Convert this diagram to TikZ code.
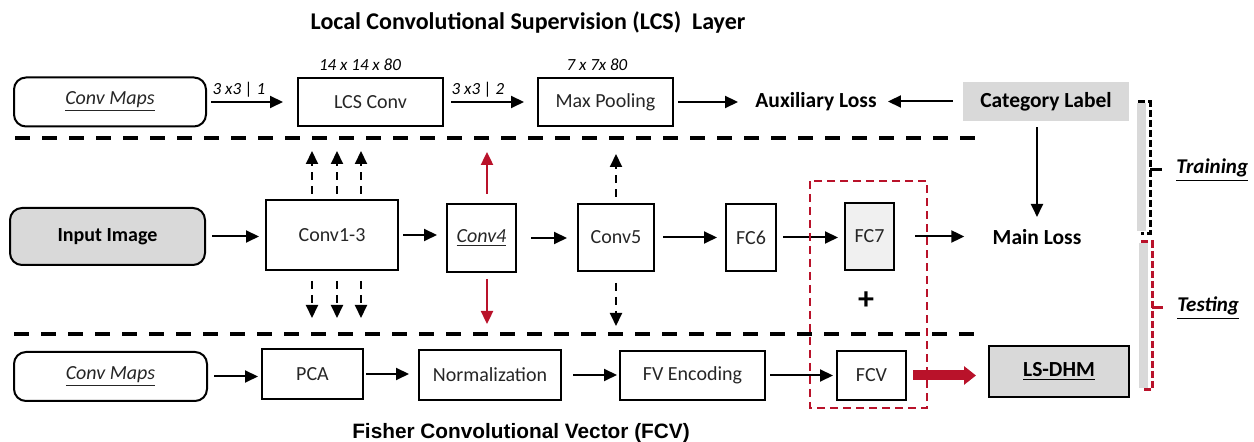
\documentclass[tikz,border=0pt]{standalone}
\usepackage{fontspec}
\setmainfont{Carlito}
\newfontfamily\arialfont{Liberation Sans}
\usetikzlibrary{arrows.meta}
\definecolor{darkred}{RGB}{185,18,42}
\definecolor{boxgray}{RGB}{217,217,217}
\definecolor{fcgray}{RGB}{240,240,240}

\begin{document}
\begin{tikzpicture}[x=0.5pt,y=-0.5pt]
\tikzstyle{every node}+=[inner sep=0pt, font=\fontsize{10}{12}\selectfont]
\tikzstyle{box}=[draw, line width=1pt, text=black!85]
\tikzstyle{mapbox}=[box, rounded corners=6pt]
\tikzstyle{bold}=[font=\fontsize{10.75}{12}\selectfont\bfseries]
\tikzstyle{lab}=[font=\fontsize{8.5}{10}\selectfont\itshape]
\tikzstyle{arr}=[line width=1pt, -{Triangle[length=6.5pt,width=6pt]}, shorten <=2pt, shorten >=2pt]
\tikzstyle{darr}=[arr, dash pattern=on 4pt off 3pt, shorten <=0pt, shorten >=0pt]
\tikzstyle{rarr}=[arr, darkred, line width=1.2pt, shorten <=0pt, shorten >=0pt]
\tikzstyle{sep}=[line width=2pt, dash pattern=on 7.5pt off 6pt]
\tikzstyle{side}=[font=\fontsize{10.5}{12}\selectfont\bfseries\itshape]
\tikzstyle{brace}=[line width=1.5pt, dash pattern=on 3.5pt off 1.5pt]
\useasboundingbox (0,0) rectangle (1254,442);

% LCS layer
\node[font=\fontsize{12}{14}\selectfont\bfseries] (lcstitle) at (528,22) {Local Convolutional Supervision (LCS)\ \ Layer};
\node[mapbox, minimum width=96pt, minimum height=24.5pt] (mapsA) at (110,102) {\textit{\underline{Conv Maps}}};
\node[box, minimum width=72.5pt, minimum height=24pt] (lcs) at (370.5,102) {LCS Conv};
\node[box, minimum width=67.5pt, minimum height=24pt] (pool) at (605.5,102) {Max Pooling};
\node[bold] (aux) at (816,102) {Auxiliary Loss};
\node[bold, fill=boxgray, minimum width=83pt, minimum height=19.5pt] (cat) at (1046,101.5) {Category Label};
\node[lab] (kerA) at (239,90) {3 x3 | 1};
\node[lab] (sizeA) at (360,65) {14 x 14 x 80};
\node[lab] (kerB) at (478,90) {3 x3 | 2};
\node[lab] (sizeB) at (597,65) {7 x 7x 80};
\draw[arr, shorten >=7pt] (mapsA.east) -- (mapsA.east -| lcs.west);
\draw[arr, shorten <=3.5pt, shorten >=6.5pt] (lcs.east) -- (lcs.east -| pool.west);
\draw[arr, shorten >=8.5pt] (pool.east) -- (pool.east -| aux.west);
\draw[arr, shorten <=5pt, shorten >=5.5pt] (cat.west) -- (cat.west -| aux.east);
\draw[sep] (15,138) -- (979,138);

% main network
\node[box, rounded corners=6pt, fill=boxgray, text=black, font=\fontsize{10}{12}\selectfont\bfseries, minimum width=97.5pt, minimum height=28.5pt] (input) at (107.5,236.5) {Input Image};
\node[box, minimum width=66pt, minimum height=35pt] (conv13) at (332,235) {Conv1-3};
\node[box, minimum width=34.5pt, minimum height=34pt] (conv4) at (481.5,238) {\textit{\underline{Conv4}}};
\node[box, minimum width=38pt, minimum height=33.5pt] (conv5) at (616,237.5) {Conv5};
\node[box, minimum width=25pt, minimum height=33.5pt] (fc6) at (751,237.5) {FC6};
\node[box, fill=fcgray, minimum width=24.5pt, minimum height=33.5pt] (fc7) at (869.5,236.5) {FC7};
\node[bold] (main) at (1037,237) {Main Loss};
\node[font=\fontsize{16}{16}\selectfont\bfseries] (plus) at (866,301) {+};
\draw[arr, shorten <=3pt, shorten >=3pt] (input.east) -- (input.east -| conv13.west);
\draw[arr, shorten <=2pt, shorten >=4.5pt] (conv13.east) -- (conv13.east -| conv4.west);
\draw[arr, shorten <=7pt, shorten >=5pt] (conv4.east) -- (conv4.east -| conv5.west);
\draw[arr, shorten <=4pt, shorten >=4pt] (conv5.east) -- (conv5.east -| fc6.west);
\draw[arr, shorten <=3pt, shorten >=3pt] (fc6.east) -- (fc6.east -| fc7.west);
\draw[arr, shorten <=10pt, shorten >=14pt] (fc7.east) -- (fc7.east -| main.west);
\draw[arr, shorten <=3pt, shorten >=6pt] (main.north |- cat.south) -- (main.north);
\foreach \dx in {-20,5,29} {
  \draw[darr] ([xshift=\dx*0.5pt,yshift=2.5pt]conv13.north) -- ++(0,-43);
  \draw[darr] ([xshift=\dx*0.5pt,yshift=-5pt]conv13.south) -- ++(0,37);
}
\draw[rarr] ([xshift=2.75pt,yshift=4.5pt]conv4.north) -- ++(0,-42);
\draw[rarr] ([xshift=2.75pt,yshift=-3pt]conv4.south) -- ++(0,45);
\draw[darr] ([yshift=3pt]conv5.north) -- ++(0,-43);
\draw[darr] ([yshift=-5.5pt]conv5.south) -- ++(0,43);
\draw[sep] (14,334) -- (977,334);

% FCV branch
\node[mapbox, minimum width=96.5pt, minimum height=24.5pt] (mapsB) at (110.5,376.5) {\textit{\underline{Conv Maps}}};
\node[box, minimum width=50.5pt, minimum height=25pt] (pca) at (312.5,374) {PCA};
\node[box, minimum width=71pt, minimum height=25pt] (norm) at (490,375) {Normalization};
\node[box, minimum width=72.5pt, minimum height=24.5pt] (fv) at (692.5,375.5) {FV Encoding};
\node[box, minimum width=34.5pt, minimum height=24.5pt] (fcv) at (871.5,375.5) {FCV};
\node[box, fill=boxgray, text=black, font=\fontsize{10.75}{12}\selectfont\bfseries, minimum width=70pt, minimum height=25.5pt] (lsdhm) at (1059,371.5) {\underline{LS-DHM}};
\node[font=\arialfont\fontsize{10.4}{12}\selectfont\bfseries] (fcvtitle) at (521,433) {Fisher Convolutional Vector (FCV)};
\draw[arr, shorten <=3pt, shorten >=1.5pt] (mapsB.east) -- (mapsB.east -| pca.west);
\draw[arr, shorten <=1pt, shorten >=4.5pt] (pca.east) -- (pca.east -| norm.west);
\draw[arr, shorten <=5.5pt, shorten >=1pt] (norm.east) -- (norm.east -| fv.west);
\draw[arr, shorten <=2pt, shorten >=1.5pt] (fv.east) -- (fv.east -| fcv.west);
\draw[darkred, line width=5pt, -{Triangle[length=6pt,width=9pt]}, shorten <=3pt, shorten >=6pt] (fcv.east) -- (fcv.east -| lsdhm.west);

% fused features
\draw[darkred, line width=1pt, dash pattern=on 4pt off 2.5pt] (810,181) rectangle (927,408);

% training / testing
\node[side, anchor=west] (train) at (1176,170) {\underline{Training}};
\node[side, anchor=west] (test) at (1177,308) {\underline{Testing}};
\fill[boxgray] (1137,103) rectangle (1146,231);
\draw[brace] (1138,102) -- (1150,102) -- (1150,234) -- (1141,234);
\draw[line width=1.5pt, shorten >=7pt] (1150,170) -- (train.west);
\fill[boxgray] (1139,243) rectangle (1148,388);
\draw[brace, darkred] (1141,242) -- (1152,242) -- (1152,390) -- (1144,390);
\draw[darkred, line width=1.5pt, shorten >=7pt] (1152,308) -- (test.west);
\end{tikzpicture}
\end{document}
